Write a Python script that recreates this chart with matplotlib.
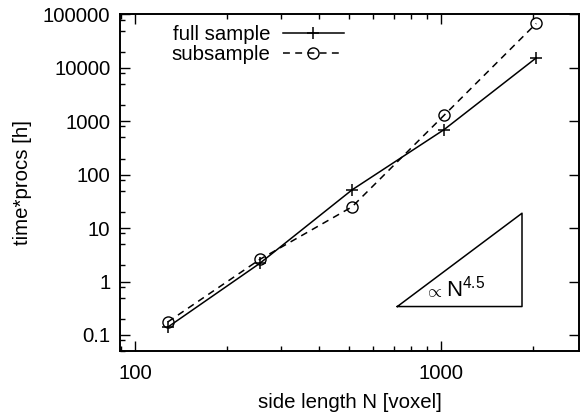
import numpy as np
import matplotlib
matplotlib.use('Agg')
import matplotlib.pyplot as plt
from matplotlib.ticker import LogLocator, NullFormatter, FixedLocator

# side length N [voxel]
side_length = [128, 256, 512, 1024, 2048]
# time*procs [h]
full_sample = [0.14, 2.2, 52, 700, 15400]
subsample = [0.175, 2.6, 25, 1300, 68000]

# guide triangle for the N^4.5 slope
tri_x = [720, 1840, 1840, 720]
tri_y = [0.34, 0.34, 19, 0.34]

plt.rcParams['font.family'] = ['Liberation Sans', 'DejaVu Sans']
plt.rcParams['font.size'] = 14.7
plt.rcParams['mathtext.fontset'] = 'custom'
plt.rcParams['mathtext.rm'] = 'Liberation Sans'
plt.rcParams['mathtext.it'] = 'Liberation Sans'

fig = plt.figure(figsize=(5.81, 4.19), dpi=100)
ax = fig.add_axes([0.2065, 0.1623, 0.9974 - 0.2065, 0.9654 - 0.1623])

ax.plot(side_length, full_sample, color='black', lw=1.1, marker='+',
        ms=9, mew=1.1, label='full sample')
ax.plot(side_length, subsample, color='black', lw=1.1, ls=(0, (4.5, 3.5)),
        marker='o', ms=8, mfc='none', mew=1.0, label='subsample')
ax.plot(tri_x, tri_y, color='black', lw=1.1)
ax.text(885, 0.52, r'$\propto$', fontsize=13, va='baseline', ha='left')
ax.text(1040, 0.52, r'N$^{4.5}$', fontsize=16, va='baseline', ha='left')

ax.set_xscale('log')
ax.set_yscale('log')
ax.set_xlim(89.3, 2836)
ax.set_ylim(0.05, 100000)

ax.xaxis.set_major_locator(FixedLocator([100, 1000]))
ax.xaxis.set_major_formatter(plt.FuncFormatter(lambda v, p: '%d' % v))
ax.xaxis.set_minor_locator(LogLocator(base=10, subs=np.arange(2, 10)))
ax.xaxis.set_minor_formatter(NullFormatter())

yt = [0.1, 1, 10, 100, 1000, 10000, 100000]
ax.yaxis.set_major_locator(FixedLocator(yt))
ax.yaxis.set_major_formatter(plt.FuncFormatter(lambda v, p: ('%g' % v) if v < 1 else '%d' % v))
ax.yaxis.set_minor_locator(LogLocator(base=10, subs=[2, 5, 8]))
ax.yaxis.set_minor_formatter(NullFormatter())

ax.tick_params(which='both', direction='in', width=1.0)
ax.tick_params(axis='x', which='both', top=True)
ax.tick_params(axis='y', which='major', right=True)
ax.tick_params(which='major', length=7.2, pad=7)
ax.tick_params(axis='x', which='major', pad=9.5)
ax.tick_params(which='minor', length=3.6)
ax.tick_params(axis='y', which='minor', right=False)
for sp in ax.spines.values():
    sp.set_linewidth(1.4)

ax.set_xlabel('side length N [voxel]', labelpad=7)
ax.set_ylabel('time*procs [h]', labelpad=8)

ax.legend(loc='upper left', bbox_to_anchor=(0.086, 1.005), frameon=False,
          markerfirst=False, handlelength=3.0, handletextpad=0.6,
          labelspacing=0.05, borderaxespad=0.2)

fig.savefig('out.png', dpi=100)
